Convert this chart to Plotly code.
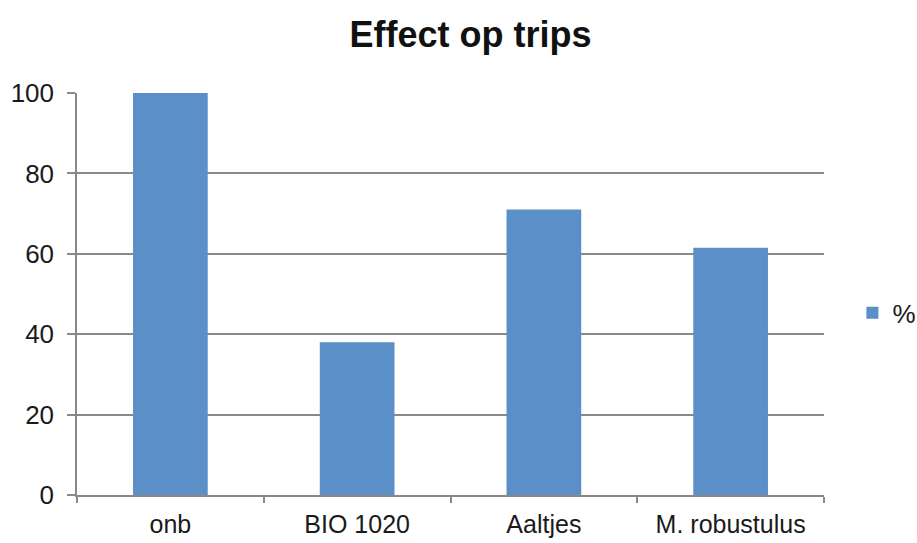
import plotly.graph_objects as go

categories = ["onb", "BIO 1020", "Aaltjes", "M. robustulus"]
values = [100, 38.0, 71.0, 61.5]
series_name = "%"
title_text = "Effect op trips"
y_ticks = [0, 20, 40, 60, 80, 100]

bar_color = "#5B8FC7"
grid_color = "#8E8782"
font_family = "Liberation Sans, Arial, sans-serif"

fig = go.Figure()
fig.add_trace(go.Bar(
    x=categories, y=values, name=series_name,
    marker=dict(color=bar_color, line=dict(width=0)),
    showlegend=True,
))

fig.update_layout(
    width=917, height=543,
    margin=dict(l=77, r=93, t=93, b=48, autoexpand=False),
    paper_bgcolor="white", plot_bgcolor="white",
    bargap=0.6,
    font=dict(family=font_family, size=26, color="#1a1a1a"),
    title=dict(text="<b>" + title_text + "</b>", x=0.513, xanchor="center",
               y=1 - 34 / 543, yanchor="middle",
               font=dict(family=font_family, size=36, color="#111111")),
    showlegend=True,
    legend=dict(x=1.038, y=0.453, xanchor="left", yanchor="middle",
                font=dict(size=26, color="#1a1a1a"),
                bgcolor="rgba(0,0,0,0)", itemwidth=30),
    xaxis=dict(
        type="category", tickson="boundaries",
        ticks="outside", ticklen=6, tickcolor=grid_color, tickwidth=1.5,
        showline=True, linecolor=grid_color, linewidth=1.5,
        showgrid=False, tickfont=dict(size=25), ticklabelstandoff=6,
    ),
    yaxis=dict(
        range=[0, 100], tickvals=y_ticks,
        ticks="outside", ticklen=8, tickcolor=grid_color, tickwidth=1.5,
        showline=True, linecolor=grid_color, linewidth=1.5,
        showgrid=True, gridcolor=grid_color, gridwidth=1.5,
        zeroline=False, tickfont=dict(size=26), ticklabelstandoff=8,
    ),
)

fig.write_html("out.html")
